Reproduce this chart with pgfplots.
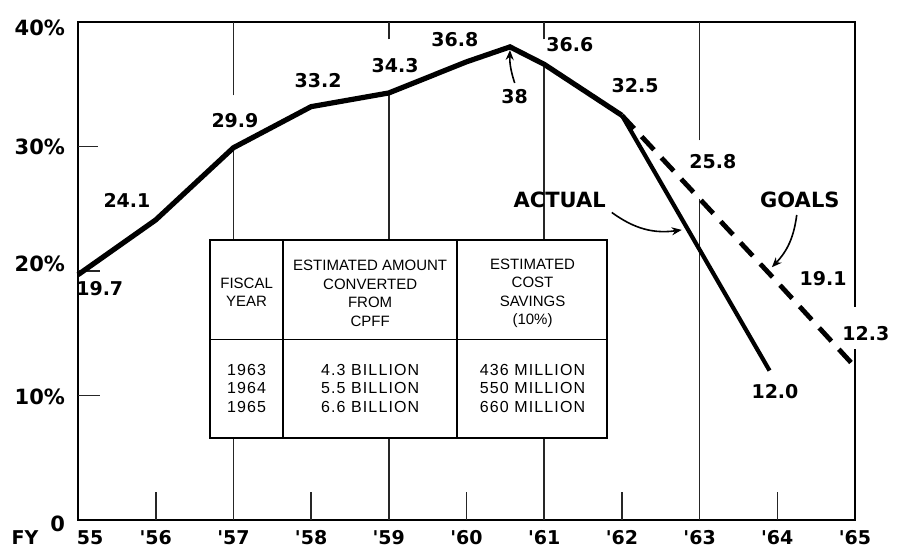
\documentclass[border=0pt]{standalone}
\usepackage{fontspec}
\setmainfont{DejaVu Sans}
\newfontfamily\tabfont{Liberation Sans}
\newfontfamily\tabbfont[LetterSpace=7]{Liberation Sans}
\usepackage{pgfplots}
\pgfplotsset{compat=1.18}
\usetikzlibrary{arrows.meta}

\begin{document}
\begin{tikzpicture}
\tikzset{
  lbl/.style={font=\fontsize{9.5}{11}\selectfont\bfseries, inner sep=1pt},
  wlbl/.style={lbl, fill=white},
  grd/.style={line width=0.8pt, black!85},
  brd/.style={line width=1.3pt, black},
  tab/.style={font=\tabfont\fontsize{7.5}{9.2}\selectfont, align=center, inner sep=0pt},
  tabb/.style={font=\tabbfont\fontsize{8}{9.25}\selectfont, align=center, inner sep=0pt},
  arr/.style={line width=0.8pt, -{Stealth[length=5pt,width=4pt]}},
}
\begin{axis}[
  at={(0,0)}, anchor=south west,
  scale only axis, width=388.5pt, height=249pt,
  xmin=55, xmax=65, ymin=0, ymax=40,
  clip=false,
  axis line style={draw=none},
  major tick length=0pt,
  xtick={56,57,58,59,60,61,62,63,64,65},
  xticklabels={\textquotesingle56,\textquotesingle57,\textquotesingle58,\textquotesingle59,\textquotesingle60,\textquotesingle61,\textquotesingle62,\textquotesingle63,\textquotesingle64,\textquotesingle65},
  ytick={0,10,20,30,40},
  yticklabels={\raisebox{2.5pt}{0},\raisebox{5pt}{10\%},\raisebox{13pt}{20\%},\raisebox{5.5pt}{30\%},40\%},
  xticklabel style={font=\fontsize{9.5}{11}\selectfont\bfseries, anchor=base, yshift=-12.5pt},
  yticklabel style={font=\fontsize{10.5}{12}\selectfont\bfseries, anchor=east, xshift=-3pt, yshift=-3pt},
]
% frame
\draw[brd] (axis cs:65,13.7) -- (axis cs:65,0) -- (axis cs:55,0) -- (axis cs:55,40) -- (axis cs:65,40) -- (axis cs:65,17.1);
% odd-year lines
\draw[grd] (axis cs:57,0) -- (axis cs:57,29.9);
\draw[grd] (axis cs:57,34.1) -- (axis cs:57,40);
\draw[grd] (axis cs:59,0) -- (axis cs:59,34.3);
\draw[grd] (axis cs:59,38.6) -- (axis cs:59,40);
\draw[grd] (axis cs:61,0) -- (axis cs:61,36.6);
\draw[grd] (axis cs:61,38.6) -- (axis cs:61,40);
\draw[grd] (axis cs:63,0) -- (axis cs:63,25.8);
\draw[grd] (axis cs:63,30.5) -- (axis cs:63,40);
% even-year short ticks
\draw[grd] (axis cs:56,0) -- (axis cs:56,2.25);
\draw[grd] (axis cs:58,0) -- (axis cs:58,2.25);
\draw[grd] (axis cs:60,0) -- (axis cs:60,2.25);
\draw[grd] (axis cs:62,0) -- (axis cs:62,2.25);
\draw[grd] (axis cs:64,0) -- (axis cs:64,2.25);
% y ticks
\draw[grd] (axis cs:55,10) -- (axis cs:55.28,10);
\draw[grd] (axis cs:55,20) -- (axis cs:55.28,20);
\draw[grd] (axis cs:55,30) -- (axis cs:55.26,30);
% FY 55 label
\node[font=\fontsize{9.5}{11}\selectfont\bfseries, anchor=base, yshift=-12.5pt, xshift=-26.5pt] at (axis cs:55,0) {FY};
\node[font=\fontsize{9.5}{11}\selectfont\bfseries, anchor=base, yshift=-12.5pt, xshift=6pt] at (axis cs:55,0) {55};
% table
\draw[line width=0.7pt, fill=white] (axis cs:56.70,6.6) rectangle (axis cs:61.81,22.5);
\draw[line width=0.7pt] (axis cs:57.64,6.6) -- (axis cs:57.64,22.5);
\draw[line width=0.7pt] (axis cs:59.88,6.6) -- (axis cs:59.88,22.5);
\draw[line width=0.7pt] (axis cs:56.70,14.5) -- (axis cs:61.81,14.5);
\node[tab] at (axis cs:57.17,18.3) {FISCAL\\YEAR};
\node[tab] at (axis cs:58.76,18.2) {ESTIMATED AMOUNT\\CONVERTED\\FROM\\CPFF};
\node[tab] at (axis cs:60.85,18.2) {ESTIMATED\\COST\\SAVINGS\\(10\%)};
\node[tabb] at (axis cs:57.17,10.6) {1963\\1964\\1965};
\node[tabb] at (axis cs:58.76,10.6) {4.3 BILLION\\5.5 BILLION\\6.6 BILLION};
\node[tabb] at (axis cs:60.85,10.6) {436 MILLION\\550 MILLION\\660 MILLION};
% data
\addplot[line width=2.6pt, line join=miter, black] coordinates {
 (55,19.7) (56,24.1) (57,29.9) (58,33.2) (59,34.3) (60,36.8) (60.56,38) (61,36.6) (62,32.5)
};
\addplot[line width=2.1pt, black] coordinates { (62,32.5) (63.9,12.0) };
\addplot[line width=2.4pt, black, dash pattern=on 9pt off 5.5pt] coordinates {
 (62,32.5) (63,25.8) (64,19.1) (65,12.3)
};
% value labels
\node[lbl] at (axis cs:55.28,18.6) {19.7};
\node[lbl] at (axis cs:55.63,25.7) {24.1};
\node[wlbl] at (axis cs:57.02,32.1) {29.9};
\node[lbl] at (axis cs:58.09,35.3) {33.2};
\node[lbl] at (axis cs:59.08,36.5) {34.3};
\node[lbl] at (axis cs:59.85,38.6) {36.8};
\node[lbl] at (axis cs:60.62,34.0) {38};
\node[lbl] at (axis cs:61.33,38.2) {36.6};
\node[lbl] at (axis cs:62.17,34.9) {32.5};
\node[wlbl] at (axis cs:63.17,28.8) {25.8};
\node[lbl] at (axis cs:64.59,19.4) {19.1};
\node[wlbl] at (axis cs:65.14,15.0) {12.3};
\node[lbl] at (axis cs:63.97,10.3) {12.0};
\node[font=\fontsize{10.5}{12}\selectfont\bfseries] at (axis cs:61.2,25.7) {ACTUAL};
\node[font=\fontsize{10.5}{12}\selectfont\bfseries] at (axis cs:64.29,25.7) {GOALS};
% arrows
\draw[arr] (axis cs:60.62,35.1) to[bend left=10] (axis cs:60.56,37.75);
\draw[arr] (axis cs:61.87,24.7) to[bend right=22] (axis cs:62.77,23.3);
\draw[arr] (axis cs:64.25,24.5) to[bend left=18] (axis cs:63.93,20.3);
\end{axis}
\pgfresetboundingbox
\path (-39pt,-14.5pt) rectangle (412.5pt,260pt);
\end{tikzpicture}
\end{document}
